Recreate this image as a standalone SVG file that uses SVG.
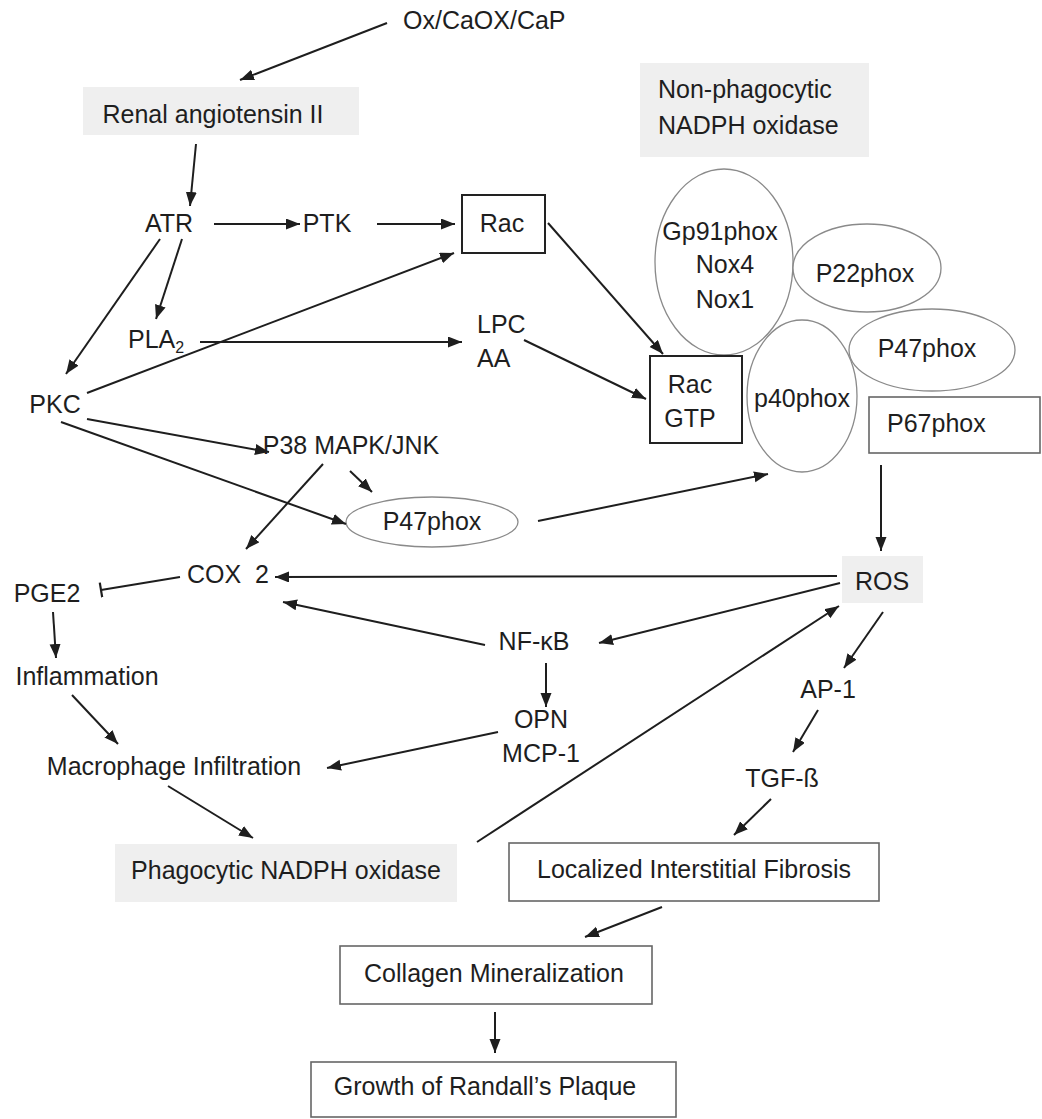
<svg xmlns="http://www.w3.org/2000/svg" width="1042" height="1119" viewBox="0 0 1042 1119">
<defs>
<style>
text{font-family:"Liberation Sans",Arial,sans-serif;font-size:25px;fill:#1e1e1e}
.m{text-anchor:middle}
.gray{fill:#efefef;stroke:none}
.box{fill:#fff;stroke:#666;stroke-width:1.6}
.bbox{fill:#fff;stroke:#222;stroke-width:2}
.ell{fill:#fff;stroke:#8a8a8a;stroke-width:1.3}
.c line{stroke:#1e1e1e;stroke-width:2;fill:none}
.a{marker-end:url(#ah)}
</style>
<marker id="ah" markerUnits="userSpaceOnUse" markerWidth="15" markerHeight="12" refX="14" refY="5.5" orient="auto">
<path d="M0,0 L14,5.5 L0,11 z" fill="#1e1e1e"/>
</marker>
<marker id="bar" markerUnits="userSpaceOnUse" markerWidth="4" markerHeight="16" refX="2" refY="7.5" orient="auto">
<path d="M2,0 L2,15" stroke="#1e1e1e" stroke-width="2.2"/>
</marker>
</defs>
<rect width="1042" height="1119" fill="#fff"/>

<g id="n-ox"><text x="403" y="29">Ox/CaOX/CaP</text></g>
<g id="n-renal"><rect class="gray" x="83" y="87" width="276" height="48"/><text class="m" x="213" y="123">Renal angiotensin II</text></g>
<g id="n-atr"><text class="m" x="169" y="232">ATR</text></g>
<g id="n-ptk"><text class="m" x="327" y="232">PTK</text></g>
<g id="n-rac"><rect class="bbox" x="462" y="195" width="83" height="58"/><text class="m" x="502" y="232">Rac</text></g>
<g id="n-nonphag"><rect class="gray" x="640" y="63" width="229" height="94"/><text x="658" y="98">Non-phagocytic</text><text x="658" y="134">NADPH oxidase</text></g>
<g id="n-gp91"><ellipse class="ell" cx="724" cy="262" rx="69" ry="93"/><text class="m" x="720" y="240">Gp91phox</text><text class="m" x="725" y="273">Nox4</text><text class="m" x="725" y="308">Nox1</text></g>
<g id="n-p22"><ellipse class="ell" cx="867" cy="268" rx="74" ry="44"/><text class="m" x="865" y="282">P22phox</text></g>
<g id="n-p47a"><ellipse class="ell" cx="932" cy="350" rx="83" ry="41"/><text class="m" x="927" y="357">P47phox</text></g>
<g id="n-racgtp"><rect class="bbox" x="650" y="356" width="92" height="87"/><text class="m" x="690" y="393">Rac</text><text class="m" x="690" y="427">GTP</text></g>
<g id="n-p40"><ellipse class="ell" cx="802" cy="396" rx="55" ry="76"/><text class="m" x="802" y="407">p40phox</text></g>
<g id="n-p67"><rect class="box" x="869" y="397" width="171" height="56"/><text x="887" y="432">P67phox</text></g>
<g id="n-pla2"><text x="128" y="348">PLA<tspan style="font-size:16px" dy="5">2</tspan></text></g>
<g id="n-lpc"><text x="477" y="333">LPC</text><text x="477" y="367">AA</text></g>
<g id="n-pkc"><text class="m" x="55" y="413">PKC</text></g>
<g id="n-p38"><text class="m" x="351" y="454">P38 MAPK/JNK</text></g>
<g id="n-p47b"><ellipse class="ell" cx="432" cy="522" rx="86" ry="25"/><text class="m" x="432" y="530">P47phox</text></g>
<g id="n-cox2"><text class="m" x="228" y="583" xml:space="preserve">COX  2</text></g>
<g id="n-pge2"><text class="m" x="47" y="602">PGE2</text></g>
<g id="n-infl"><text class="m" x="87" y="685">Inflammation</text></g>
<g id="n-macro"><text class="m" x="174" y="775">Macrophage Infiltration</text></g>
<g id="n-phag"><rect class="gray" x="115" y="844" width="342" height="58"/><text class="m" x="286" y="879">Phagocytic NADPH oxidase</text></g>
<g id="n-ros"><rect class="gray" x="842" y="556" width="81" height="47"/><text class="m" x="882" y="590">ROS</text></g>
<g id="n-nfkb"><text class="m" x="534" y="650">NF-κB</text></g>
<g id="n-opn"><text class="m" x="541" y="728">OPN</text><text class="m" x="541" y="762">MCP-1</text></g>
<g id="n-ap1"><text class="m" x="828" y="698">AP-1</text></g>
<g id="n-tgf"><text class="m" x="782" y="787">TGF-ß</text></g>
<g id="n-fib"><rect class="box" x="509" y="843" width="370" height="58"/><text class="m" x="694" y="878">Localized Interstitial Fibrosis</text></g>
<g id="n-coll"><rect class="box" x="340" y="946" width="312" height="58"/><text class="m" x="494" y="982">Collagen Mineralization</text></g>
<g id="n-growth"><rect class="box" x="311" y="1062" width="365" height="55"/><text class="m" x="485" y="1095">Growth of Randall’s Plaque</text></g>

<g id="connectors" class="c">
<line class="a" x1="387" y1="23" x2="240" y2="80"/>
<line class="a" x1="196" y1="144" x2="190" y2="206"/>
<line class="a" x1="214" y1="224" x2="300" y2="224"/>
<line class="a" x1="377" y1="224" x2="455" y2="224"/>
<line class="a" x1="160" y1="239" x2="66" y2="374"/>
<line class="a" x1="182" y1="239" x2="156" y2="319"/>
<line class="a" x1="87" y1="393" x2="454" y2="253"/>
<line class="a" x1="200" y1="342" x2="462" y2="342"/>
<line class="a" x1="548" y1="223" x2="663" y2="354"/>
<line class="a" x1="524" y1="340" x2="646" y2="399"/>
<line class="a" x1="87" y1="419" x2="269" y2="452"/>
<line class="a" x1="61" y1="422" x2="346" y2="524"/>
<line class="a" x1="350" y1="471" x2="372" y2="492"/>
<line class="a" x1="323" y1="464" x2="246" y2="549"/>
<line class="a" x1="538" y1="521" x2="768" y2="474"/>
<line class="a" x1="881" y1="465" x2="881" y2="551"/>
<line class="a" x1="837" y1="576" x2="275" y2="577"/>
<line class="a" x1="840" y1="583" x2="599" y2="643"/>
<line class="a" x1="485" y1="645" x2="283" y2="602"/>
<line class="a" x1="477" y1="842" x2="839" y2="606"/>
<line class="a" x1="883" y1="612" x2="844" y2="668"/>
<line class="a" x1="546" y1="663" x2="546" y2="707"/>
<line class="a" x1="498" y1="732" x2="327" y2="768"/>
<line class="a" x1="818" y1="710" x2="793" y2="752"/>
<line class="a" x1="771" y1="799" x2="734" y2="835"/>
<line x1="180" y1="577" x2="101" y2="590" marker-end="url(#bar)"/>
<line class="a" x1="53" y1="612" x2="56" y2="658"/>
<line class="a" x1="72" y1="695" x2="118" y2="744"/>
<line class="a" x1="168" y1="786" x2="253" y2="838"/>
<line class="a" x1="662" y1="907" x2="585" y2="937"/>
<line class="a" x1="495" y1="1012" x2="495" y2="1053"/>
</g>
</svg>
